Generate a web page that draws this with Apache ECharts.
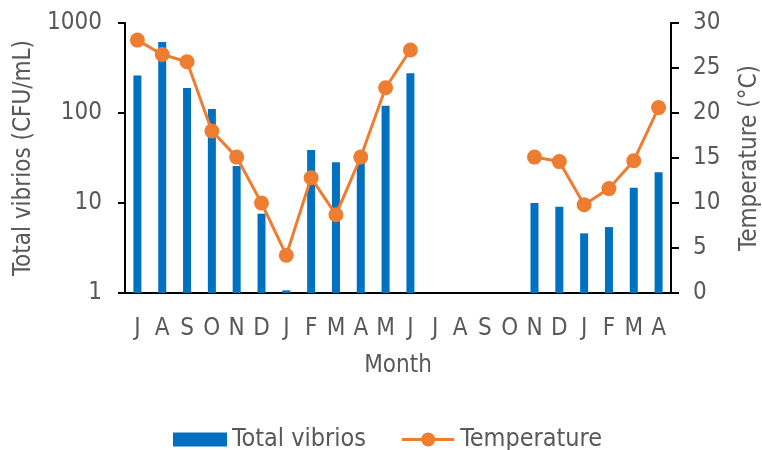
<!DOCTYPE html>
<html>
<head>
<meta charset="utf-8">
<script src="https://cdn.jsdelivr.net/npm/echarts@6/dist/echarts.min.js"></script>
<style>
  html, body { margin: 0; padding: 0; background: #fff; }
  #chart { width: 762px; height: 450px; }
</style>
</head>
<body>
<div id="chart"></div>
<script>
// Sampling months (two years, with a gap in the middle)
const months = ['J','A','S','O','N','D','J','F','M','A','M','J','J','A','S','O','N','D','J','F','M','A'];
// Total vibrios, CFU/mL (null = not sampled)
const vibrios = [261, 614, 190, 111, 25.8, 7.6, 1.07, 38.8, 28.3, 30, 120, 277,
                 null, null, null, null, 10.0, 9.1, 4.6, 5.4, 14.8, 21.9];
// Water temperature, °C
const temperature = [28.1, 26.5, 25.7, 18.0, 15.1, 10.0, 4.2, 12.8, 8.7, 15.1, 22.8, 27.0,
                     null, null, null, null, 15.1, 14.6, 9.8, 11.6, 14.7, 20.6];
// Temperature axis ticks
const tempTicks = [0, 5, 10, 15, 20, 25, 30];

const FONT = '"DejaVu Sans Condensed", "Liberation Sans", sans-serif';
const SIZE = 24;
const GREY = '#595959';
const ORANGE = '#ED7D31';
const BLUE = '#0070C0';
const txt = { fontFamily: FONT, fontSize: SIZE, color: GREY };

// legend glyph for the temperature series: a short line with a dot in the middle
const lineDotIcon = 'path://M0,6 L56,6 L56,9 L0,9 Z M20.5,7.5 A7.5,7.5 0 1,1 35.5,7.5 A7.5,7.5 0 1,1 20.5,7.5 Z';

const chart = echarts.init(document.getElementById('chart'), null, { renderer: 'canvas' });
chart.setOption({
  animation: false,
  textStyle: { fontFamily: FONT },
  grid: { left: 125, right: 91, top: 23, bottom: 157, outerBoundsMode: 'none', containLabel: false },
  legend: {
    top: 422,
    left: 168,
    itemWidth: 54,
    itemHeight: 14,
    itemGap: 36,
    textStyle: { fontFamily: FONT, fontSize: 25, color: GREY },
    data: [
      { name: 'Total vibrios', icon: 'rect' },
      { name: 'Temperature', icon: lineDotIcon, itemStyle: { color: ORANGE } }
    ]
  },
  xAxis: {
    type: 'category',
    data: months,
    name: 'Month',
    nameLocation: 'middle',
    nameGap: 61,
    nameTextStyle: txt,
    axisLine: { lineStyle: { color: '#000', width: 2 } },
    axisTick: { show: false },
    axisLabel: Object.assign({ margin: 24, interval: 0 }, txt)
  },
  yAxis: [
    {
      type: 'log',
      logBase: 10,
      min: 1,
      max: 1000,
      name: 'Total vibrios (CFU/mL)',
      nameLocation: 'middle',
      nameGap: 85,
      nameTextStyle: txt,
      axisLine: { show: true, lineStyle: { color: '#000', width: 2 } },
      axisTick: { show: true, length: 7, lineStyle: { color: '#000', width: 2 } },
      axisLabel: Object.assign({ margin: 23, formatter: v => String(v) }, txt),
      splitLine: { show: false }
    },
    {
      type: 'value',
      min: tempTicks[0],
      max: tempTicks[tempTicks.length - 1],
      interval: 5,
      name: 'Temperature (°C)',
      nameLocation: 'middle',
      nameGap: 67,
      nameRotate: 90,
      nameTextStyle: txt,
      axisLine: { show: true, lineStyle: { color: '#000', width: 2 } },
      axisTick: { show: true, length: 8, lineStyle: { color: '#000', width: 2 } },
      axisLabel: Object.assign({ margin: 22 }, txt),
      splitLine: { show: false }
    }
  ],
  series: [
    {
      name: 'Total vibrios',
      type: 'bar',
      yAxisIndex: 0,
      data: vibrios,
      barWidth: 8,
      itemStyle: { color: BLUE }
    },
    {
      name: 'Temperature',
      type: 'line',
      yAxisIndex: 1,
      data: temperature,
      connectNulls: false,
      symbol: 'circle',
      symbolSize: 15,
      lineStyle: { color: ORANGE, width: 3 },
      itemStyle: { color: ORANGE }
    }
  ]
});
</script>
</body>
</html>
